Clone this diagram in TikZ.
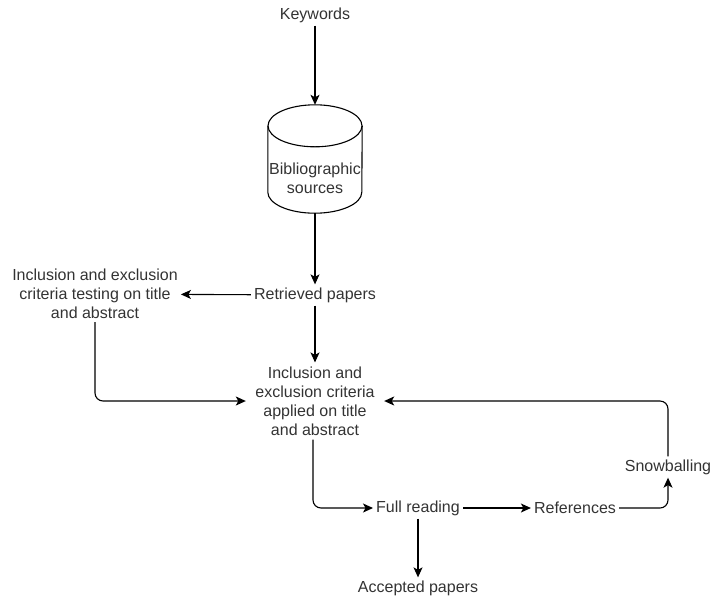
\documentclass[tikz,border=0pt]{standalone}
\usepackage{fontspec}
\setmainfont{Liberation Sans}
\usetikzlibrary{arrows.meta}

\begin{document}
\begin{tikzpicture}[
    x=1pt, y=-1pt,
    every node/.style={font=\fontsize{16}{19}\selectfont, text=black!80, align=center},
    txt/.style={inner sep=3pt},
    db/.style={inner sep=0pt, minimum width=94pt, minimum height=108pt},
    dbline/.style={black, line width=1.1pt},
    arrowline/.style={black, line width=1.1pt, rounded corners=8pt,
        -{Stealth[length=10pt,width=9pt,inset=2.5pt]}},
    ]

\useasboundingbox (0,0) rectangle (711,598);

\node[txt] (kw) at (315,15) {Keywords};
% the strut pushes the two lines below the top ellipse
\node[db] (bib) at (315,159) {\rule{0pt}{50pt}Bibliographic\\sources};
\node[txt] (ret) at (315,295) {Retrieved papers};
\node[txt] (test) at (95,294) {Inclusion and exclusion\\criteria testing on title\\and abstract};
\node[inner sep=4pt, minimum width=138pt] (crit) at (315,401) {Inclusion and\\exclusion criteria\\applied on title\\and abstract};
\node[txt] (full) at (418,508) {Full reading};
\node[txt] (refs) at (575,508) {References};
\node[txt] (snow) at (668,467) {Snowballing};
\node[txt] (acc) at (418,588) {Accepted papers};

% cylinder
\draw[dbline] ([yshift=-21pt]bib.north) ellipse [x radius=47pt, y radius=21pt];
\draw[dbline] ([yshift=-21pt]bib.north west) -- ([yshift=21pt]bib.south west)
    arc [start angle=180, end angle=360, x radius=47pt, y radius=21pt]
    -- ([yshift=-21pt]bib.north east);

\draw[arrowline] (kw) -- (bib);
\draw[arrowline] (bib) -- (ret);
\draw[arrowline] (ret) -- (test);
\draw[arrowline] (ret) -- (crit);
\draw[arrowline] (test.south) |- (crit.west);
\draw[arrowline] ([xshift=-2pt]crit.south) |- (full.west);
\draw[arrowline] (full) -- (refs);
\draw[arrowline] (full) -- (acc);
\draw[arrowline] (refs.east) -| (snow.south);
\draw[arrowline] (snow.north) |- (crit.east);

\end{tikzpicture}
\end{document}
